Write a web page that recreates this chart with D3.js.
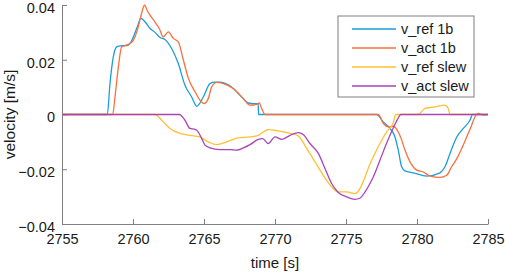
<!DOCTYPE html>
<html>
<head>
<meta charset="utf-8">
<script src="https://cdn.jsdelivr.net/npm/d3@7"></script>
<style>
  body { margin: 0; background: #fff; }
  text { font-family: "Liberation Sans", Arial, sans-serif; }
</style>
</head>
<body>
<div id="chart"></div>
<script>
// series names and colours
const names = ["v_ref 1b", "v_act 1b", "v_ref slew", "v_act slew"];
const colors = ["#1a9dd9", "#f9703e", "#fdc133", "#a945b6"];

// values (time [s], velocity [m/s])
const tRef1b = [2755, 2758.19, 2758.38, 2758.61, 2758.85, 2759.0, 2759.65, 2760.0, 2760.3, 2760.56, 2760.9, 2761.2, 2761.55, 2761.9, 2762.25, 2762.72, 2763.19, 2763.66, 2764.13, 2764.49, 2764.95, 2765.42, 2765.77, 2766.13, 2766.6, 2767.06, 2767.65, 2768.12, 2768.47, 2768.82, 2768.84, 2777.16, 2777.63, 2778.1, 2778.45, 2778.68, 2778.92, 2779.15, 2779.74, 2780.68, 2781.62, 2781.97, 2782.32, 2782.8, 2783.26, 2783.73, 2783.92, 2785];
const vRef1b = [0, 0, 0.0114, 0.021, 0.0247, 0.025, 0.0253, 0.028, 0.032, 0.0351, 0.0335, 0.0314, 0.030, 0.0281, 0.0274, 0.0241, 0.0186, 0.0107, 0.0064, 0.003, 0.0064, 0.0113, 0.0118, 0.0118, 0.0111, 0.0095, 0.0064, 0.0042, 0.004, 0.004, 0, 0, -0.0027, -0.0051, -0.0082, -0.013, -0.0191, -0.0206, -0.0213, -0.0225, -0.0213, -0.0191, -0.0143, -0.0082, -0.0051, -0.0021, 0, 0];

const tAct1b = [2755, 2758.57, 2758.73, 2758.97, 2759.2, 2759.67, 2760.02, 2760.37, 2760.6, 2760.82, 2761.0, 2761.2, 2761.54, 2761.85, 2762.13, 2762.49, 2762.84, 2763.19, 2763.55, 2763.9, 2764.37, 2764.72, 2765.0, 2765.3, 2765.54, 2765.9, 2766.36, 2767.06, 2767.77, 2768.24, 2768.71, 2768.9, 2769.06, 2769.3, 2777.27, 2777.63, 2777.98, 2778.33, 2778.68, 2778.9, 2779.15, 2779.51, 2779.98, 2780.44, 2780.92, 2781.62, 2782.09, 2782.44, 2782.8, 2783.15, 2783.5, 2783.85, 2784.08, 2784.32, 2784.67, 2785];
const vAct1b = [0, 0, 0.0064, 0.0174, 0.0247, 0.0256, 0.0271, 0.032, 0.0369, 0.040, 0.038, 0.0363, 0.0338, 0.0314, 0.0283, 0.0302, 0.0278, 0.0265, 0.0198, 0.0132, 0.0083, 0.0052, 0.004, 0.0058, 0.0101, 0.0117, 0.0113, 0.0095, 0.0058, 0.0034, 0.0037, 0.0042, 0.0022, 0, 0, -0.0033, -0.0045, -0.0043, -0.0064, -0.009, -0.013, -0.0173, -0.0203, -0.021, -0.0225, -0.023, -0.0222, -0.0191, -0.0161, -0.0124, -0.0082, -0.0039, -0.0009, 0.0004, -0.0002, 0];

const tRefSlew = [2755, 2761.55, 2762.13, 2762.6, 2763.31, 2764.01, 2764.72, 2765.3, 2765.89, 2766.6, 2767.41, 2768.24, 2768.82, 2769.53, 2770.23, 2771.06, 2771.64, 2772.23, 2772.82, 2773.4, 2773.99, 2774.46, 2775.05, 2775.63, 2775.99, 2776.34, 2776.69, 2776.92, 2777.39, 2777.85, 2778.31, 2778.5, 2780.1, 2780.32, 2780.56, 2781.27, 2781.97, 2782.2, 2782.32, 2785];
const vRefSlew = [0, 0, -0.0027, -0.0051, -0.0069, -0.0076, -0.0082, -0.010, -0.011, -0.010, -0.0085, -0.0082, -0.0076, -0.0055, -0.006, -0.0069, -0.0078, -0.0124, -0.0173, -0.0222, -0.0264, -0.0283, -0.0283, -0.0289, -0.027, -0.0228, -0.018, -0.0155, -0.0106, -0.0064, -0.0033, 0, 0, 0.001, 0.0022, 0.0028, 0.0034, 0.0022, 0, 0];

const tActSlew = [2755, 2763.26, 2763.66, 2764.01, 2764.37, 2764.6, 2764.84, 2765.07, 2765.42, 2766.13, 2766.83, 2767.3, 2767.77, 2768.24, 2768.82, 2769.13, 2769.53, 2770.0, 2770.47, 2771.06, 2771.64, 2771.99, 2772.46, 2773.05, 2773.52, 2773.99, 2774.46, 2775.05, 2775.63, 2775.99, 2776.34, 2776.69, 2776.92, 2777.39, 2777.85, 2778.31, 2778.66, 2778.85, 2785];
const vActSlew = [0, 0, -0.0021, -0.0051, -0.0054, -0.0064, -0.0088, -0.0112, -0.0122, -0.0128, -0.0128, -0.013, -0.0122, -0.011, -0.0091, -0.0088, -0.0106, -0.0082, -0.0091, -0.0076, -0.0066, -0.0073, -0.0106, -0.0142, -0.0197, -0.0252, -0.0285, -0.0301, -0.031, -0.0305, -0.0283, -0.0252, -0.0228, -0.0167, -0.0106, -0.0051, -0.0015, 0, 0];

// tick labels
const xTicks = [2755, 2760, 2765, 2770, 2775, 2780, 2785];
const yTicks = [-0.04, -0.02, 0, 0.02, 0.04];

const width = 505, height = 273;
const margin = {left: 62, right: 17, top: 5, bottom: 49};

const svg = d3.select("#chart")
    .append("svg")
    .attr("width", width)
    .attr("height", height);

const x = d3.scaleLinear()
    .domain([2755, 2785])
    .range([margin.left, width - margin.right]);

const y = d3.scaleLinear()
    .domain([-0.04, 0.04])
    .range([height - margin.bottom, margin.top]);

// bottom axis, ticks pointing inward
const xAxis = svg.append("g")
    .attr("transform", `translate(0, ${height - margin.bottom})`)
    .call(d3.axisBottom(x).tickValues(xTicks).tickSizeInner(-5).tickSizeOuter(0).tickPadding(9).tickFormat(d3.format("d")));

// left axis
const yAxis = svg.append("g")
    .attr("transform", `translate(${margin.left}, 0)`)
    .call(d3.axisLeft(y).tickValues(yTicks).tickSizeInner(-5).tickSizeOuter(0).tickPadding(7).tickFormat(d => d === 0 ? "0" : d3.format(".2f")(d)));

[xAxis, yAxis].forEach(a => {
    a.select(".domain").attr("stroke", "#7f7f7f").attr("stroke-width", 1);
    a.selectAll(".tick line").attr("stroke", "#7f7f7f");
    a.selectAll(".tick text")
        .attr("fill", "#1a1a1a")
        .style("font-size", "14.5px")
        .style("font-family", "'Liberation Sans', Arial, sans-serif");
});
xAxis.selectAll(".tick text").attr("dy", "0.75em");
yAxis.selectAll(".tick text").attr("dy", "0.5em");

// axis labels
svg.append("text")
    .attr("text-anchor", "middle")
    .attr("x", (margin.left + width - margin.right) / 2)
    .attr("y", 268)
    .style("font-size", "15px")
    .style("fill", "#1a1a1a")
    .text("time [s]");

svg.append("text")
    .attr("text-anchor", "middle")
    .attr("transform", `translate(15, ${(margin.top + height - margin.bottom) / 2}) rotate(-90)`)
    .style("font-size", "15.5px")
    .style("fill", "#1a1a1a")
    .text("velocity [m/s]");

// lines
const series = [
    {t: tRef1b, v: vRef1b},
    {t: tAct1b, v: vAct1b},
    {t: tRefSlew, v: vRefSlew},
    {t: tActSlew, v: vActSlew}
];

const line = d3.line()
    .x(d => x(d[0]))
    .y(d => y(d[1]))
    .curve(d3.curveMonotoneX);

series.forEach((s, i) => {
    svg.append("path")
        .datum(s.t.map((t, j) => [t, s.v[j]]))
        .attr("fill", "none")
        .attr("stroke", colors[i])
        .attr("stroke-width", 1.3)
        .attr("d", line);
});

// legend
const legend = svg.append("g").attr("transform", "translate(338, 16)");
legend.append("rect")
    .attr("width", 136)
    .attr("height", 81)
    .attr("fill", "#fff")
    .attr("stroke", "#7f7f7f")
    .attr("stroke-width", 1);

names.forEach((n, i) => {
    const ly = 13 + i * 19;
    legend.append("line")
        .attr("x1", 14).attr("x2", 58)
        .attr("y1", ly).attr("y2", ly)
        .attr("stroke", colors[i])
        .attr("stroke-width", 1.3);
    legend.append("text")
        .attr("x", 63)
        .attr("y", ly + 5)
        .style("font-size", "14.5px")
        .style("fill", "#1a1a1a")
        .text(n);
});
</script>
</body>
</html>
